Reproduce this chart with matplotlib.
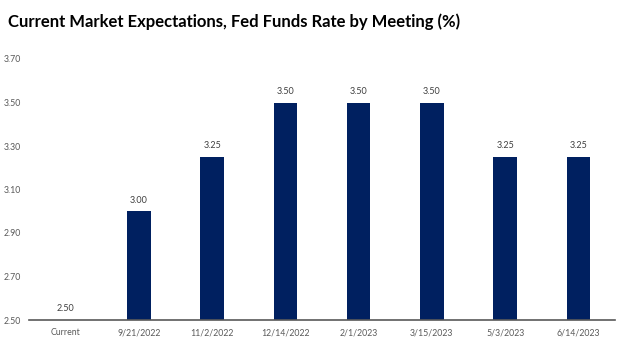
import numpy as np
from matplotlib import pyplot as plt

plt.rcParams['font.family'] = ['Lato', 'DejaVu Sans']

meetings = ['Current', '9/21/2022', '11/2/2022', '12/14/2022', '2/1/2023',
            '3/15/2023', '5/3/2023', '6/14/2023']
rates = [2.50, 3.00, 3.25, 3.50, 3.50, 3.50, 3.25, 3.25]
yticks = [2.50, 2.70, 2.90, 3.10, 3.30, 3.50, 3.70]

fig = plt.figure(figsize=[6.24, 3.41], dpi=100)
ax = fig.add_axes([29/624, 21/341, 586/624, 261/341])

x = np.arange(len(meetings))
ax.bar(x, rates, width=0.32, color='#002060')
for xi, r in zip(x, rates):
    ax.text(xi, r + 0.03, '%.2f' % r, ha='center', va='bottom', fontsize=6.5, color='#404040')

ax.set_xlim(-0.5, len(meetings) - 0.5)
ax.set_ylim(2.5, 3.7)
ax.set_yticks(yticks)
ax.set_yticklabels(['%.2f' % v for v in yticks])
ax.set_xticks(x)
ax.set_xticklabels(meetings)
ax.tick_params(axis='both', length=0, labelsize=6.3, labelcolor='#595959', pad=6)
ax.tick_params(axis='y', pad=6)
for s in ['top', 'right', 'left']:
    ax.spines[s].set_visible(False)
ax.spines['bottom'].set_color('#595959')
ax.spines['bottom'].set_linewidth(1.2)

fig.text(8/624, 1 - 22/341, 'Current Market Expectations, Fed Funds Rate by Meeting (%)',
         fontsize=12, fontweight='bold', color='black', va='center', ha='left')

fig.savefig('out.png')
